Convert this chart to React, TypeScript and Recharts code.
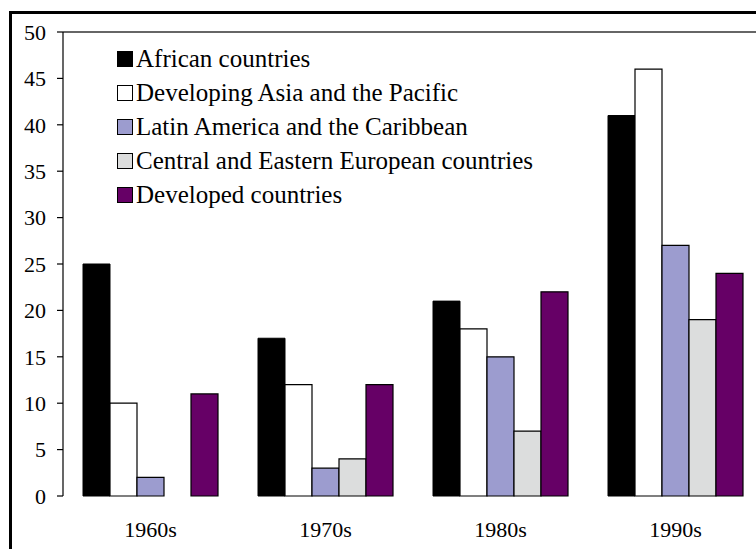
import React from 'react';
import { BarChart, Bar, XAxis, YAxis, Legend, ReferenceLine } from 'recharts';

const decades = ['1960s', '1970s', '1980s', '1990s'];
const african = [25, 17, 21, 41];
const asiaPacific = [10, 12, 18, 46];
const latinAmerica = [2, 3, 15, 27];
const centralEastern = [0, 4, 7, 19];
const developed = [11, 12, 22, 24];
const yTicks = [0, 5, 10, 15, 20, 25, 30, 35, 40, 45, 50];
const boundaryTicks = [0, 1, 2, 3, 4];

const seriesNames = [
  'African countries',
  'Developing Asia and the Pacific',
  'Latin America and the Caribbean',
  'Central and Eastern European countries',
  'Developed countries',
];
const seriesColors = ['#000000', '#ffffff', '#9c9ccf', '#dcdddd', '#660066'];

const data = decades.map((d, i) => ({
  decade: d,
  african: african[i],
  asia: asiaPacific[i],
  latin: latinAmerica[i],
  cee: centralEastern[i],
  developed: developed[i],
}));

const FONT = "'Times New Roman', 'Liberation Serif', Times, 'DejaVu Serif', serif";

const LegendContent = () => (
  <div style={{ fontFamily: FONT, fontSize: 25, color: '#000', textAlign: 'left' }}>
    {seriesNames.map((name, i) => (
      <div key={name} style={{ display: 'flex', alignItems: 'center', height: 34 }}>
        <span
          style={{
            display: 'inline-block',
            width: 14,
            height: 14,
            background: seriesColors[i],
            border: '1.5px solid #000',
            marginRight: 3,
            flex: 'none',
          }}
        />
        <span style={{ whiteSpace: 'nowrap' }}>{name}</span>
      </div>
    ))}
  </div>
);

export default function App() {
  return (
    <div style={{ position: 'absolute', left: 0, top: 0, width: 756, height: 549, overflow: 'hidden', background: '#fff' }}>
      <div
        style={{
          position: 'absolute',
          left: 9,
          top: 11,
          width: 900,
          height: 700,
          border: '3px solid #000',
          boxSizing: 'border-box',
        }}
      />
      <div style={{ position: 'absolute', left: 0, top: 0 }}>
        <BarChart
          width={800}
          height={549}
          data={data}
          margin={{ top: 32, right: 37, left: 0, bottom: 0 }}
          barCategoryGap={20}
          barGap={0}
        >
          <XAxis
            xAxisId="b"
            type="number"
            domain={[0, 4]}
            ticks={boundaryTicks}
            height={0}
            tickSize={5}
            axisLine={{ stroke: '#000', strokeWidth: 1.2 }}
            tickLine={{ stroke: '#000', strokeWidth: 1.2 }}
            tick={() => <g />}
          />
          <XAxis
            dataKey="decade"
            height={53}
            axisLine={false}
            tickLine={false}
            tickSize={0}
            tickMargin={25}
            tick={{ fill: '#000', fontSize: 22, fontFamily: FONT }}
          />
          <YAxis
            width={63}
            domain={[0, 50]}
            ticks={yTicks}
            interval={0}
            tickSize={6}
            tickMargin={11}
            axisLine={{ stroke: '#000', strokeWidth: 1.2 }}
            tickLine={{ stroke: '#000', strokeWidth: 1.2 }}
            tick={{ fill: '#000', fontSize: 22, fontFamily: FONT }}
          />
          <ReferenceLine y={50} stroke="#333" strokeWidth={1.5} />
          <Legend
            layout="horizontal"
            verticalAlign="middle"
            align="center"
            content={<LegendContent />}
            wrapperStyle={{ left: 117, top: 42, width: 520 }}
          />
          <Bar dataKey="african" name={seriesNames[0]} fill={seriesColors[0]} stroke="#000" strokeWidth={1} isAnimationActive={false} />
          <Bar dataKey="asia" name={seriesNames[1]} fill={seriesColors[1]} stroke="#000" strokeWidth={1.2} isAnimationActive={false} />
          <Bar dataKey="latin" name={seriesNames[2]} fill={seriesColors[2]} stroke="#000" strokeWidth={1.2} isAnimationActive={false} />
          <Bar dataKey="cee" name={seriesNames[3]} fill={seriesColors[3]} stroke="#000" strokeWidth={1.2} isAnimationActive={false} />
          <Bar dataKey="developed" name={seriesNames[4]} fill={seriesColors[4]} stroke="#000" strokeWidth={1.2} isAnimationActive={false} />
        </BarChart>
      </div>
    </div>
  );
}
